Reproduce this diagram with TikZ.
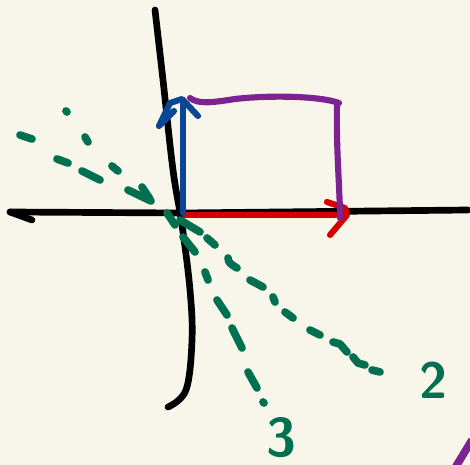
\documentclass[tikz,border=0pt]{standalone}
\definecolor{paper}{RGB}{248,246,234}
\definecolor{inkgreen}{RGB}{0,112,80}
\definecolor{inkblue}{RGB}{10,70,150}
\definecolor{inkred}{RGB}{215,0,0}
\definecolor{inkpurple}{RGB}{125,35,145}
\begin{document}
\begin{tikzpicture}[x=0.02cm, y=-0.02cm,
  ax/.style={draw=black, line width=3.8pt, line cap=round, line join=round},
  vec/.style={line width=3.5pt, line cap=round, line join=round},
  gd/.style={draw=inkgreen, line width=4.4pt, line cap=round, line join=round},
  lbl/.style={text=inkgreen, inner sep=0pt}]
\fill[paper] (0,0) rectangle (470,465);
\useasboundingbox (0,0) rectangle (470,465);
\coordinate (o) at (183,213);
% axes
\draw[ax] (10,212) -- (183,213) -- (468,210);
\draw[ax] (10,212) -- (32,220);
\draw[ax] plot[smooth, tension=0.6] coordinates {(155,10) (163,80) (173,170) (182,225) (190,290) (192,340) (186,390) (168,407)};
% red vector
\draw[vec, inkred] (o) ++(2,2) -- (336,215);
\draw[vec, inkred] (327,202) -- (345,208) -- (347,215) -- (330,235);
% blue vector
\draw[vec, inkblue] (o) -- (183,100);
\draw[vec, inkblue] (174,111) -- (159,126) -- (170,103) -- (182,99) -- (198,116);
% purple sides
\draw[vec, inkpurple] (190,98) .. controls (198,104) and (210,103) .. (235,99) .. controls (270,95) and (320,96) .. (339,103);
\draw[vec, inkpurple] (337,104) .. controls (336,150) and (340,190) .. (340,218);
\draw[line width=4.4pt, inkpurple] (455,468) -- (472,440);
% green dashes, upper left
\draw[gd] (20,135) -- (32,139); \draw[gd] (57,159) -- (68,163);
\draw[gd] (82,171) -- (100,180); \draw[gd] (128,190) -- (151,201);
\draw[gd] (142,187) -- (150,199);
\draw[gd] (66,111) -- (67,112); \draw[gd] (85,137) -- (88,142);
\draw[gd] (112,166) -- (118,171);
% green dashes, line 2
\draw[gd] (167,213) -- (175,225); \draw[gd] (180,220) -- (200,232);
\draw[gd] (207,238) -- (215,245); \draw[gd] (228,258) .. controls (229,263) .. (237,268);
\draw[gd] (250,280) -- (263,287); \draw[gd] (273,297) -- (275,302);
\draw[gd] (285,312) -- (293,318); \draw[gd] (310,330) -- (320,335);
\draw[gd] (333,342) -- (340,344) -- (347,352); \draw[gd] (353,357) -- (358,363) -- (365,365);
\draw[gd] (372,370) -- (380,372);
% green dashes, line 3
\draw[gd] (183,237) -- (195,252); \draw[gd] (205,272) -- (208,280);
\draw[gd] (217,300) -- (227,315); \draw[gd] (232,328) -- (242,348);
\draw[gd] (248,372) -- (257,388); \draw[gd] (263,402) -- (264,403);
\node[lbl, font=\sffamily\bfseries\fontsize{29}{30}\selectfont] (two) at (434,380) {2};
\node[lbl, font=\sffamily\bfseries\fontsize{31}{33}\selectfont] (three) at (281,438) {3};
\end{tikzpicture}
\end{document}
